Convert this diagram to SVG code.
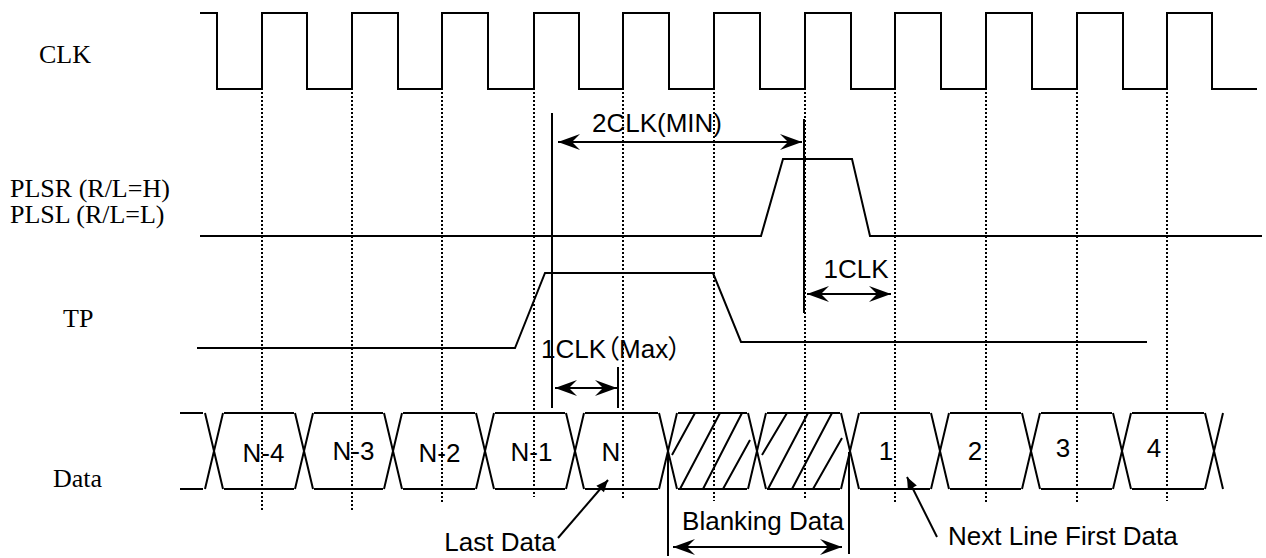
<svg xmlns="http://www.w3.org/2000/svg" width="1266" height="558" viewBox="0 0 1266 558">
<style>
.w{fill:none;stroke:#000;stroke-width:2;stroke-linejoin:miter}
.d{fill:none;stroke:#000;stroke-width:2;stroke-dasharray:2 2}
.s{fill:none;stroke:#000;stroke-width:2}
.lbl{font-family:"Liberation Serif","Times New Roman",serif;font-size:26px;fill:#000}
.t{font-family:"Liberation Sans",Arial,"Noto Sans CJK SC",sans-serif;font-size:26px;fill:#000}
.p{font-feature-settings:"palt" 1}
</style>
<defs>
<marker id="arr" markerUnits="userSpaceOnUse" markerWidth="24" markerHeight="18" viewBox="-23 -9 24 18" refX="0" refY="0" orient="auto-start-reverse">
<path d="M0,0 L-22,-8 L-14,0 L-22,8 Z" fill="#000"/>
</marker>
<marker id="sm" markerUnits="userSpaceOnUse" markerWidth="14" markerHeight="12" viewBox="-13 -6 14 12" refX="0" refY="0" orient="auto">
<path d="M0,0 L-12,-5 L-12,5 Z" fill="#000"/>
</marker>
</defs>
<rect width="1266" height="558" fill="#fff"/>

<g id="labels">
<text class="lbl" x="39" y="63">CLK</text>
<text class="lbl" x="10" y="197">PLSR (R/L=H)</text>
<text class="lbl" x="10" y="223">PLSL (R/L=L)</text>
<text class="lbl" x="63" y="327">TP</text>
<text class="lbl" x="53" y="487">Data</text>
</g>

<g id="grid">
<path class="d" d="M262,72V510 M352,72V512 M442,72V502 M534,72V497 M623,72V499 M714,72V501 M805,72V500 M895,72V502 M986,72V502 M1077,72V504 M1167,72V501"/>
</g>

<g id="clk">
<path class="w" d="M200,13H217V89H262V13H307V89H352V13H398V89H442V13H488V89H534V13H579V89H623V13H669V89H714V13H760V89H805V13H851V89H895V13H941V89H986V13H1032V89H1077V13H1123V89H1167V13H1212V89H1257"/>
</g>

<g id="plsr">
<path class="w" d="M200,236H761L783,159H852L870,236H1262"/>
</g>

<g id="tp">
<path class="w" d="M197,348H515L545,273H713L741,342H1147"/>
</g>

<g id="data">
<path class="w" d="M180,413H203M224,413H294M314,413H383M403,413H475M495,413H565M585,413H658M678,413H747M767,413H840M860,413H930M950,413H1021M1041,413H1112M1132,413H1204"/>
<path class="w" d="M180,489H203M224,489H294M314,489H383M403,489H475M495,489H565M585,489H658M678,489H747M767,489H840M860,489H930M950,489H1021M1041,489H1112M1132,489H1204"/>
<path class="w" d="M205,413L223,489M205,489L223,413 M295,413L313,489M295,489L313,413 M384,413L402,489M384,489L402,413 M476,413L494,489M476,489L494,413 M566,413L584,489M566,489L584,413 M659,413L677,489M659,489L677,413 M748,413L766,489M748,489L766,413 M841,413L859,489M841,489L859,413 M931,413L949,489M931,489L949,413 M1022,413L1040,489M1022,489L1040,413 M1113,413L1131,489M1113,489L1131,413 M1205,413L1223,489M1205,489L1223,413"/>
<path class="s" d="M672,455L695,413 M680,489L720,413 M703,489L742,413 M723,489L750,440 M762,455L787,413 M768,489L808,413 M792,489L832,413 M813,489L842,438"/>
<text class="t" x="263.5" y="462" text-anchor="middle">N-4</text>
<text class="t" x="353.5" y="460" text-anchor="middle">N-3</text>
<text class="t" x="439.5" y="462" text-anchor="middle">N-2</text>
<text class="t" x="531.5" y="461" text-anchor="middle">N-1</text>
<text class="t" x="611" y="461" text-anchor="middle">N</text>
<text class="t" x="886" y="460" text-anchor="middle">1</text>
<text class="t" x="975" y="460" text-anchor="middle">2</text>
<text class="t" x="1063" y="457" text-anchor="middle">3</text>
<text class="t" x="1154" y="457" text-anchor="middle">4</text>
</g>

<g id="connectors">
<path class="s" d="M552,113V408 M804,119V313 M618,367V408 M668,452V556 M849,452V554"/>
<line class="s" x1="558" y1="142" x2="802" y2="142" marker-start="url(#arr)" marker-end="url(#arr)"/>
<line class="s" x1="807" y1="294" x2="891" y2="294" marker-start="url(#arr)" marker-end="url(#arr)"/>
<line class="s" x1="555" y1="388" x2="617" y2="388" marker-start="url(#arr)" marker-end="url(#arr)"/>
<line class="s" x1="673" y1="547" x2="842" y2="547" marker-start="url(#arr)" marker-end="url(#arr)"/>
<line class="s" x1="558" y1="538" x2="608" y2="480" marker-end="url(#sm)"/>
<line class="s" x1="937" y1="537" x2="907" y2="477" marker-end="url(#sm)"/>
</g>

<g id="annotations">
<text class="t" x="657" y="132" text-anchor="middle">2CLK(MIN)</text>
<text class="t" x="856" y="278" text-anchor="middle">1CLK</text>
<text class="t p" x="541" y="358">1CLK（Max）</text>
<text class="t" x="763" y="530" text-anchor="middle">Blanking Data</text>
<text class="t" x="500" y="551" text-anchor="middle">Last Data</text>
<text class="t" x="948" y="545">Next Line First Data</text>
</g>
</svg>
